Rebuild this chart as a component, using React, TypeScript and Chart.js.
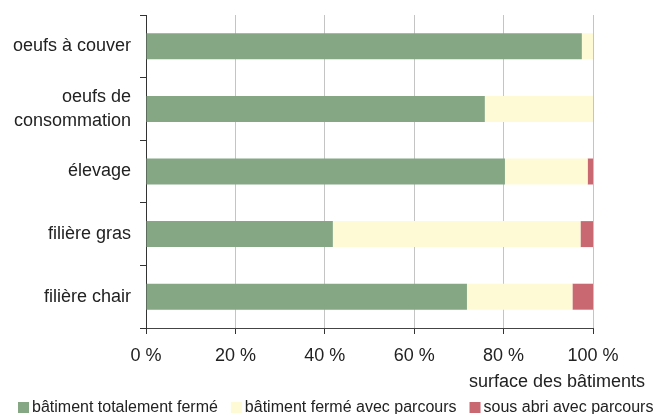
import React, { useEffect, useRef } from "react";
import { Chart, registerables } from "chart.js";
Chart.register(...registerables);

const categories: (string | string[])[] = [
  "oeufs à couver",
  ["oeufs de", "consommation"],
  "élevage",
  "filière gras",
  "filière chair",
];
const batimentFerme = [97.5, 75.8, 80.3, 41.8, 71.8];
const batimentParcours = [2.5, 24.2, 18.5, 55.4, 23.6];
const sousAbri = [0, 0, 1.2, 2.8, 4.6];
const seriesNames = [
  "bâtiment totalement fermé",
  "bâtiment fermé avec parcours",
  "sous abri avec parcours",
];
const seriesColors = ["#86a783", "#fefad6", "#c96870"];
const xTicks = [0, 20, 40, 60, 80, 100];
const axisTitle = "surface des bâtiments";

const FONT = "'Liberation Sans', Arial, sans-serif";
const TEXT = "#222";

const extrasPlugin = {
  id: "extras",
  afterDraw(chart: any) {
    const ctx = chart.ctx;
    ctx.save();
    // axis title
    ctx.font = `18px ${FONT}`;
    ctx.fillStyle = TEXT;
    ctx.textAlign = "right";
    ctx.textBaseline = "alphabetic";
    ctx.fillText(axisTitle, chart.width - 8, 387);
    // legend
    ctx.font = `16px ${FONT}`;
    ctx.textAlign = "left";
    let x = 18;
    chart.data.datasets.forEach((ds: any) => {
      ctx.fillStyle = ds.backgroundColor;
      ctx.fillRect(x, 402, 11, 11);
      ctx.fillStyle = TEXT;
      ctx.fillText(ds.label, x + 14, 412);
      x += 14 + ctx.measureText(ds.label).width + 13;
    });
    ctx.restore();
  },
};

export default function App() {
  const ref = useRef<HTMLCanvasElement | null>(null);
  useEffect(() => {
    if (!ref.current) return;
    const chart = new Chart(ref.current, {
      type: "bar",
      data: {
        labels: categories,
        datasets: [
          { label: seriesNames[0], data: batimentFerme, backgroundColor: seriesColors[0], borderWidth: 0 },
          { label: seriesNames[1], data: batimentParcours, backgroundColor: seriesColors[1], borderWidth: 0 },
          { label: seriesNames[2], data: sousAbri, backgroundColor: seriesColors[2], borderWidth: 0 },
        ],
      },
      plugins: [extrasPlugin],
      options: {
        indexAxis: "y",
        animation: false,
        responsive: true,
        maintainAspectRatio: false,
        datasets: { bar: { barPercentage: 0.415, categoryPercentage: 1 } },
        layout: { padding: { top: 15, left: 0, right: 60, bottom: 46 } },
        scales: {
          x: {
            type: "linear",
            stacked: true,
            min: 0,
            max: 100,
            afterBuildTicks: (s: any) => {
              s.ticks = xTicks.map((v) => ({ value: v }));
            },
            afterFit: (s: any) => {
              s.height = 40;
            },
            ticks: {
              callback: (v: any) => v + " %",
              font: { family: FONT, size: 18 },
              color: TEXT,
              padding: 11,
              maxRotation: 0,
            },
            grid: { color: "#c4c4c4", lineWidth: 1, tickLength: 6, tickColor: "#333", drawTicks: true },
            border: { color: "#444", width: 1 },
          },
          y: {
            type: "category",
            stacked: true,
            afterFit: (s: any) => {
              s.width = 146;
              s.paddingTop = 0;
              s.paddingBottom = 0;
            },
            ticks: {
              font: { family: FONT, size: 18, lineHeight: 1.3 },
              color: TEXT,
              padding: 9,
            },
            grid: { drawOnChartArea: false, drawTicks: true, tickLength: 6, color: "#333", offset: true },
            border: { color: "#333", width: 1 },
          },
        } as any,
        plugins: {
          tooltip: { enabled: false },
          legend: { display: false },
        },
      },
    });
    return () => chart.destroy();
  }, []);
  return (
    <div style={{ position: "absolute", left: 0, top: 0, width: 653, height: 414 }}>
      <canvas ref={ref} />
    </div>
  );
}
